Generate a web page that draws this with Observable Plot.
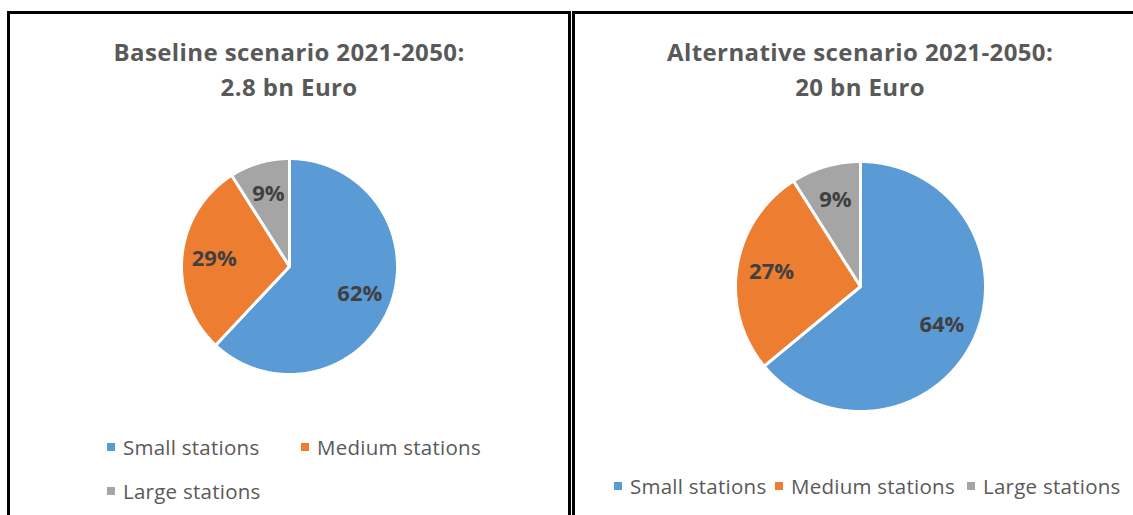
<!DOCTYPE html>
<html>
<head>
<meta charset="utf-8">
<script src="https://cdn.jsdelivr.net/npm/d3@7"></script>
<script src="https://cdn.jsdelivr.net/npm/@observablehq/plot@0.6"></script>
<style>
  html, body { margin: 0; padding: 0; background: #fff; }
  #page { position: relative; width: 1133px; height: 515px; overflow: hidden; background: #fff; font-family: "Open Sans", sans-serif; }
  .panel { position: absolute; border: 3px solid #000; box-sizing: border-box; background: #fff; }
  .title { position: absolute; text-align: center; color: #595959; font-weight: 700; font-size: 24px; letter-spacing: 0.4px; line-height: 35px; white-space: nowrap; }
  .legend-item { position: absolute; display: flex; align-items: center; color: #595959; font-size: 20.5px; letter-spacing: 0.25px; white-space: nowrap; }
  .legend-item .sw { width: 8px; height: 8px; margin-right: 8px; display: inline-block; }
  .pie { position: absolute; }
</style>
</head>
<body>
<div id="page"></div>
<script>
// ---- data ----
const categories = ["Small stations", "Medium stations", "Large stations"];
const baselineShares = [62, 29, 9];
const alternativeShares = [64, 27, 9];
const baselineTitle = ["Baseline scenario 2021-2050:", "2.8 bn Euro"];
const alternativeTitle = ["Alternative scenario 2021-2050:", "20 bn Euro"];
const colors = ["#5B9BD5", "#ED7D31", "#A5A5A5"];

// ---- layout ----
const page = document.getElementById("page");

const panels = [
  {
    box: {left: 7, top: 11, width: 564, height: 560},
    title: baselineTitle, titleCx: 289, titleTop: 34,
    shares: baselineShares, cx: 289, cy: 266, r: 108, labelR: 0.7,
    legend: [{x: 107, y: 447}, {x: 301, y: 447}, {x: 107, y: 491}]
  },
  {
    box: {left: 572, top: 11, width: 600, height: 560},
    title: alternativeTitle, titleCx: 860, titleTop: 34,
    shares: alternativeShares, cx: 860, cy: 285.5, r: 125, labelR: 0.72,
    legend: [{x: 614, y: 486}, {x: 775, y: 486}, {x: 967, y: 486}]
  }
];

function panelPie(p) {
  const pad = 6;
  const size = 2 * (p.r + pad);
  const D = (p.r + pad) / p.r;
  const rows = categories.map((c, i) => ({cat: c, value: p.shares[i]}));
  const arcs = d3.pie().sort(null).value(d => d.value)(rows);
  const pts = [];
  const labels = [];
  for (const a of arcs) {
    const cat = a.data.cat;
    pts.push({cat, x: 0, y: 0});
    const n = Math.max(4, Math.ceil((a.endAngle - a.startAngle) / 0.01));
    for (let k = 0; k <= n; k++) {
      const t = a.startAngle + (a.endAngle - a.startAngle) * k / n;
      pts.push({cat, x: Math.sin(t), y: Math.cos(t)});
    }
    const m = (a.startAngle + a.endAngle) / 2;
    labels.push({cat, x: p.labelR * Math.sin(m), y: p.labelR * Math.cos(m), text: a.data.value + "%"});
  }
  const chart = Plot.plot({
    width: size, height: size,
    margin: 0,
    x: {domain: [-D, D], axis: null},
    y: {domain: [-D, D], axis: null},
    color: {domain: categories, range: colors},
    style: {background: "transparent", overflow: "visible"},
    marks: [
      Plot.line(pts, {x: "x", y: "y", z: "cat", fill: "cat", stroke: "white", strokeWidth: 3, curve: "linear-closed", strokeLinejoin: "miter"}),
      Plot.text(labels, {x: "x", y: "y", text: "text", fill: "#404040", fontWeight: 700, fontSize: 22, fontFamily: "Open Sans"})
    ]
  });
  chart.classList.add("pie");
  chart.style.left = (p.cx - size / 2) + "px";
  chart.style.top = (p.cy - size / 2) + "px";
  return chart;
}

for (const p of panels) {
  const box = document.createElement("div");
  box.className = "panel";
  Object.assign(box.style, {left: p.box.left + "px", top: p.box.top + "px", width: p.box.width + "px", height: p.box.height + "px"});
  page.appendChild(box);

  const t = document.createElement("div");
  t.className = "title";
  t.innerHTML = p.title.map(s => `<div>${s}</div>`).join("");
  t.style.top = p.titleTop + "px";
  page.appendChild(t);
  t.style.left = (p.titleCx - t.offsetWidth / 2) + "px";

  page.appendChild(panelPie(p));

  categories.forEach((c, i) => {
    const it = document.createElement("div");
    it.className = "legend-item";
    it.innerHTML = `<span class="sw" style="background:${colors[i]}"></span><span>${c}</span>`;
    page.appendChild(it);
    it.style.left = p.legend[i].x + "px";
    it.style.top = (p.legend[i].y - it.offsetHeight / 2) + "px";
  });
}
</script>
</body>
</html>
